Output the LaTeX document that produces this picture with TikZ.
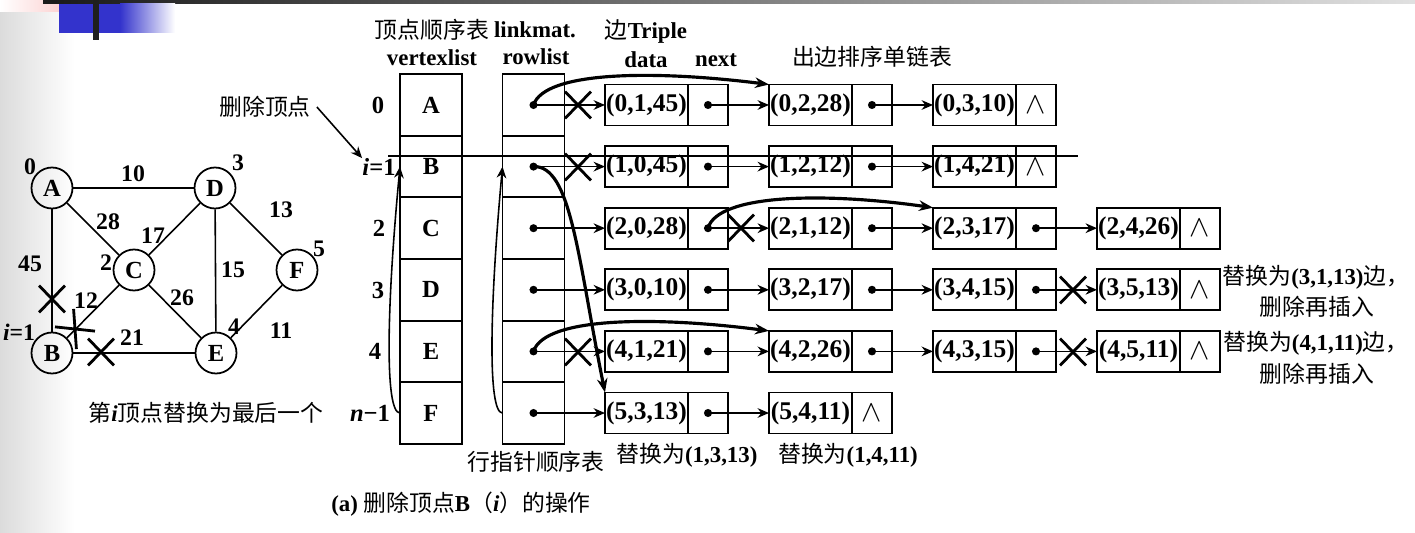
\documentclass[tikz,border=0pt]{standalone}
\usepackage{fontspec}
\setmainfont{Liberation Serif}
\newfontfamily\cjk{Noto Sans CJK SC}
\usetikzlibrary{positioning, shapes.misc, arrows.meta, bending}
\definecolor{slideblue}{RGB}{51,51,204}
\definecolor{slidepink}{RGB}{250,195,195}

\begin{document}
\begin{tikzpicture}[x=0.02cm, y=-0.02cm, font=\fontsize{13}{15}\selectfont]
  \tikzset{
    vertex_circle/.style={circle, draw, line width=1pt, minimum size=0.82cm, inner sep=0pt, font=\fontsize{14}{16}\selectfont\bfseries},
    graph_edge/.style={line width=0.9pt},
    weight_label/.style={inner sep=0pt, font=\fontsize{13.5}{15}\selectfont\bfseries},
    list_cell/.style={rectangle, draw, line width=1.1pt, minimum width=1.24cm, minimum height=1.232cm, inner sep=0pt, outer sep=0pt, font=\fontsize{14}{16}\selectfont\bfseries},
    data_cell/.style={rectangle, draw, line width=1.1pt, minimum width=1.66cm, minimum height=0.82cm, inner sep=0pt, outer sep=0pt, font=\fontsize{14.5}{16}\selectfont\bfseries},
    next_cell/.style={data_cell, minimum width=0.8cm, font=\fontsize{17}{17}\selectfont},
    link_arrow/.style={-{Stealth[length=6.5pt, width=5.5pt]}, line width=0.9pt},
    bold_arc/.style={-{Stealth[length=8pt, width=6pt]}, line width=1.8pt},
    cross_mark/.style={cross out, draw, line width=1.6pt, minimum width=0.46cm, minimum height=0.48cm, inner sep=0pt},
    row_label/.style={inner sep=0pt, font=\fontsize{14}{16}\selectfont\bfseries},
    head_label/.style={inner sep=0pt, font=\fontsize{13}{15}\selectfont\bfseries}
  }
  \useasboundingbox (0,0) rectangle (1415,533);

  % slide decoration
  \shade[left color=black!14, right color=white] (0,0) rectangle (75,533);
  \shade[left color=white, right color=slidepink] (0,0) rectangle (82,12);
  \shade[left color=black!90, right color=black!12] (43,0) rectangle (1415,4);
  \fill[slideblue] (59,4) rectangle (120,33);
  \shade[left color=slideblue, right color=white] (120,4) rectangle (175,33);
  \fill[black!88] (93,0) rectangle (99,40);

  % the graph
  \node[vertex_circle] (A) at (52,188) {A};
  \node[vertex_circle] (D) at (215,188) {D};
  \node[vertex_circle] (C) at (134,270) {C};
  \node[vertex_circle] (F) at (297,270) {F};
  \node[vertex_circle] (B) at (52,353) {B};
  \node[vertex_circle] (E) at (216,353) {E};
  \foreach \a/\b in {A/D, A/C, A/B, D/C, D/E, D/F, C/B, C/E, B/E, E/F}
    \draw[graph_edge] (\a) -- (\b);

  \node[weight_label] (w-AD) at (133,174) {10};
  \node[weight_label] (w-AC) at (108,222) {28};
  \node[weight_label] (w-CD) at (153,236) {17};
  \node[weight_label] (w-DF) at (281,210) {13};
  \node[weight_label] (w-AB) at (30,264) {45};
  \node[weight_label] (w-DE) at (233,270) {15};
  \node[weight_label] (w-BC) at (86,301) {12};
  \node[weight_label] (w-CE) at (182,298) {26};
  \node[weight_label] (w-BE) at (132,338) {21};
  \node[weight_label] (w-EF) at (281,331) {11};

  \node[weight_label] (i-A) at (30,167) {0};
  \node[weight_label] (i-D) at (238,163) {3};
  \node[weight_label] (i-C) at (106,263) {2};
  \node[weight_label] (i-F) at (319,249) {5};
  \node[weight_label] (i-E) at (234,327) {4};
  \node[weight_label] (i-B) at (19,332) {\textit{i}=1};

  \node[cross_mark] (gx-AB) at (52,299) {};
  \node[cross_mark] (gx-BE) at (101,352) {};
  \node[cross_mark, rotate=44, minimum width=0.46cm, minimum height=0.56cm] (gx-BC) at (75,329) {};

  \node (last) at (206,413) {{\cjk 第}\textbf{\textit{i}}{\cjk 顶点替换为最后一个}};

  % headers
  \node (vtitle) at (432,30) {\cjk 顶点顺序表};
  \node[head_label] (mtitle) at (535,30) {linkmat.};
  \node[head_label] (vname) at (432,58) {vertexlist};
  \node[head_label] (rname) at (536,57) {rowlist};
  \node (ttitle) at (646,32) {{\cjk 边}\textbf{Triple}};
  \node[head_label] (dname) at (646,60) {data};
  \node[head_label] (nname) at (716,60) {next};
  \node (ctitle) at (872,57) {\cjk 出边排序单链表};

  % vertex list and row list
  \foreach \v [count=\k from 0] in {A,...,F} {
    \node[list_cell] (V-\k) at (431,{105+61.6*\k}) {\v};
    \node[list_cell] (R-\k) at (533.5,{105+61.6*\k}) {};
    \fill (R-\k.center) circle (2.3pt);
  }
  \node[row_label] (L-0) at (378,105) {0};
  \node[row_label] (L-1) at (379,167) {\textit{i}=1};
  \node[row_label] (L-2) at (379,228) {2};
  \node[row_label] (L-3) at (378,290) {3};
  \node[row_label] (L-4) at (375,351) {4};
  \node[row_label] (L-5) at (370,413) {\textit{n}−1};

  % sorted out-edge chains
  \foreach \r/\n/\lst in {0/3/{1/45,2/28,3/10}, 1/3/{0/45,2/12,4/21},
      2/4/{0/28,1/12,3/17,4/26}, 3/4/{0/10,2/17,4/15,5/13},
      4/4/{1/21,2/26,3/15,5/11}, 5/2/{3/13,4/11}} {
    \foreach \j/\w [count=\c] in \lst {
      \node[data_cell] (T-\r-\c) at ({646.5+164*(\c-1)},{105+61.6*\r}) {(\r,\j,\w)};
      \node[next_cell, right=0pt of T-\r-\c] (N-\r-\c) {\ifnum\c=\n $\wedge$\fi};
      \ifnum\c<\n
        \fill (N-\r-\c.center) circle (2.3pt);
      \fi
      \ifnum\c=1
        \draw[link_arrow] (R-\r.center) -- (T-\r-\c.west);
      \else
        \pgfmathtruncatemacro{\p}{\c-1}
        \draw[link_arrow] (N-\r-\p.center) -- (T-\r-\c.west);
      \fi
    }
  }

  % crossed out links
  \node[cross_mark] (X-0) at (578,105) {};
  \node[cross_mark] (X-1) at (578,167) {};
  \node[cross_mark] (X-2) at (741,228) {};
  \node[cross_mark] (X-3) at (1073,290) {};
  \node[cross_mark] (X-4) at (578,352) {};
  \node[cross_mark] (X-5) at (1073,352) {};

  % new links
  \draw[bold_arc] (R-0.center) .. controls (545,70) and (660,70) .. (T-0-2.north west);
  \draw[bold_arc] (N-2-1.center) .. controls (718,193) and (830,192) .. (T-2-3.north west);
  \draw[bold_arc] (R-4.center) .. controls (545,316) and (660,316) .. (T-4-2.north west);
  \draw[bold_arc] (R-1.center) .. controls (572,165) and (578,262) .. (T-5-1.north west);

  \draw[link_arrow] (V-5.west) .. controls (384,413) and (387,300) .. (V-1.west);
  \draw[link_arrow] (R-5.west) .. controls (487,413) and (490,300) .. (R-1.west);

  % deleted row
  \draw[line width=0.8pt] (388,156) -- (1078,156);
  \node (del) at (265,107) {\cjk 删除顶点};
  \draw[link_arrow] (del.east) -- (L-1.north west);

  % notes
  \node (rtitle) at (536,462) {\cjk 行指针顺序表};
  \node (note-1) at (687,455) {{\cjk 替换为}\textbf{(1,3,13)}};
  \node (note-2) at (848,455) {{\cjk 替换为}\textbf{(1,4,11)}};
  \node (note-3) at (1316,277) {{\cjk 替换为}\textbf{(3,1,13)}{\cjk 边，}};
  \node (note-4) at (1317,307) {\cjk 删除再插入};
  \node (note-5) at (1316,343) {{\cjk 替换为}\textbf{(4,1,11)}{\cjk 边，}};
  \node (note-6) at (1317,374) {\cjk 删除再插入};
  \node (caption) at (461,504) {\textbf{(a)} {\cjk 删除顶点}\textbf{B}{\cjk （}\textbf{\textit{i}}{\cjk ）的操作}};
\end{tikzpicture}
\end{document}
